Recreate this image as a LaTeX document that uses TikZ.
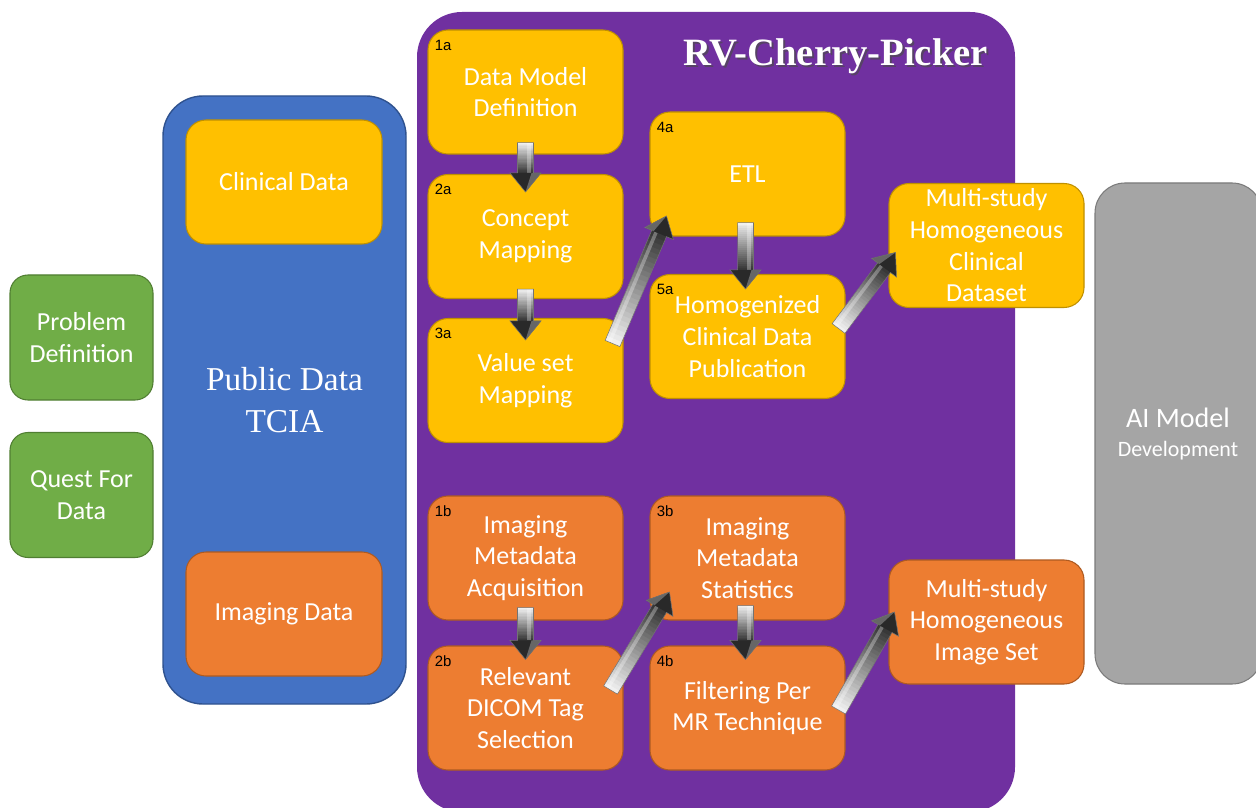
\documentclass[tikz,border=0pt]{standalone}
\usepackage{fontspec}
\setmainfont{Carlito}
\newfontfamily\serifT{Liberation Serif}
\newfontfamily\numT{Liberation Sans}
\usetikzlibrary{calc}
\definecolor{cgold}{HTML}{FFC000}
\definecolor{cgoldD}{HTML}{BF9000}
\definecolor{corange}{HTML}{ED7D31}
\definecolor{corangeD}{HTML}{AE5A21}
\definecolor{cgreen}{HTML}{70AD47}
\definecolor{cgreenD}{HTML}{507E32}
\definecolor{cblue}{HTML}{4472C4}
\definecolor{cblueD}{HTML}{2F528F}
\definecolor{cpurple}{HTML}{7030A0}
\definecolor{cgray}{HTML}{A5A5A5}
\definecolor{cgrayD}{HTML}{7B7B7B}
\tikzset{
  box/.style 2 args={draw, line width=0.6pt, rounded corners=0.4cm,
    minimum width=#1*0.02cm, minimum height=#2*0.02cm, align=center,
    text=white, inner sep=1pt, font=\fontsize{14.8}{18}\selectfont},
  goldbox/.style={box={195}{124}, fill=cgold, draw=cgoldD},
  orangebox/.style={box={195}{124}, fill=corange, draw=corangeD},
  greenbox/.style={box={143}{125}, fill=cgreen, draw=cgreenD, rounded corners=0.36cm},
  numlbl/.style={anchor=north west, inner sep=0pt, text=black,
    font=\numT\fontsize{8.5}{10}\selectfont},
  arrowedge/.style={draw=black!55, line width=0.3pt},
}
% 3-D style block arrow from #1 (tail) to #2 (tip), light at tail, dark at head
\newcommand{\blkarrow}[2]{%
  \coordinate (bkH) at ($(#2)!0.38cm!(#1)$);
  \foreach \i in {0,...,23}{%
    \pgfmathsetmacro\ca{\i/24}%
    \pgfmathsetmacro\cb{(\i+1.4)/24}%
    \pgfmathsetmacro\cc{6+72*\i/23}%
    \fill[black!\cc]
      ($(#1)!\ca!(bkH)!0.16cm!90:(#2)$) -- ($(#1)!\cb!(bkH)!0.16cm!90:(#2)$)
      -- ($(#1)!\cb!(bkH)!0.16cm!-90:(#2)$) -- ($(#1)!\ca!(bkH)!0.16cm!-90:(#2)$) -- cycle;
  }
  \fill[white, opacity=0.3]
      ($(#1)!0.03cm!90:(#2)$) -- ($(bkH)!0.03cm!-90:(#1)$)
      -- ($(bkH)!0.1cm!-90:(#1)$) -- ($(#1)!0.1cm!90:(#2)$) -- cycle;
  \fill[black!84] ($(bkH)!0.31cm!-90:(#1)$) -- (#2) -- ($(bkH)!0.31cm!90:(#1)$) -- cycle;
  \fill[black!60] ($(bkH)!0.31cm!-90:(#1)$) -- (#2) -- ($(bkH)!0.12cm!-90:(#1)$) -- cycle;
  \draw[arrowedge]
    ($(#1)!0.16cm!90:(#2)$) -- ($(bkH)!0.16cm!-90:(#1)$) -- ($(bkH)!0.31cm!-90:(#1)$)
    -- (#2) -- ($(bkH)!0.31cm!90:(#1)$) -- ($(bkH)!0.16cm!90:(#1)$)
    -- ($(#1)!0.16cm!-90:(#2)$) -- cycle;
}
\begin{document}
\begin{tikzpicture}[x=0.02cm, y=-0.02cm]
\useasboundingbox (0,0) rectangle (1256,807);
\clip (0,0) rectangle (1256,807);
\fill[white] (0,0) rectangle (1256,807);

% left green boxes
\node[greenbox] (prob) at (81.5,337.5) {Problem\\Definition};
\node[greenbox] (quest) at (81.5,495) {Quest For\\Data};

% blue public data
\node[draw=cblueD, fill=cblue, line width=0.8pt, rounded corners=0.8cm,
      minimum width=243*0.02cm, minimum height=608*0.02cm, align=center,
      text=white, font=\serifT\fontsize{19}{24}\selectfont] (tcia) at (284.5,400)
      {Public Data\\TCIA};
\node[goldbox, minimum width=196*0.02cm] (clin) at (284,182) {Clinical Data};
\node[orangebox, minimum width=196*0.02cm] (img) at (284,614) {Imaging Data};

% purple cherry picker
\node[fill=cpurple, rounded corners=0.9cm, minimum width=598*0.02cm,
      minimum height=800*0.02cm] (rv) at (716,412) {};
\node[text=black!70, opacity=0.7, font=\serifT\bfseries\fontsize{22}{26}\selectfont]
      (titleshadow) at (837.5,58) {RV-Cherry-Picker};
\node[text=white, font=\serifT\bfseries\fontsize{22}{26}\selectfont]
      (title) at (835.5,56) {RV-Cherry-Picker};

% AI model
\node[draw=cgrayD, fill=cgray, line width=0.6pt, rounded corners=0.6cm,
      minimum width=167*0.02cm, minimum height=501*0.02cm] (ai) at (1178.5,433.5) {};
\node[text=white, align=center, font=\fontsize{16}{18}\selectfont] (aitxt) at (1178,434)
      {AI Model\\[-1pt]{\fontsize{12.5}{15}\selectfont Development}};

% clinical pipeline
\node[goldbox] (n1a) at (525.5,92) {Data Model\\Definition};
\node[goldbox] (n2a) at (525.5,236.5) {Concept\\Mapping};
\node[goldbox] (n3a) at (525.5,380.5) {Value set\\Mapping};
\node[goldbox] (n4a) at (747.5,174) {ETL};
\node[goldbox] (n5a) at (747.5,336.5) {Homogenized\\Clinical Data\\Publication};
\node[goldbox] (nmc) at (986.5,245.5) {Multi-study\\Homogeneous\\Clinical\\Dataset};

% imaging pipeline
\node[orangebox] (n1b) at (525.5,558) {Imaging\\Metadata\\Acquisition};
\node[orangebox] (n2b) at (525.5,708) {Relevant\\DICOM Tag\\Selection};
\node[orangebox] (n3b) at (747.5,558) {Imaging\\Metadata\\Statistics};
\node[orangebox] (n4b) at (747.5,708) {Filtering Per\\MR Technique};
\node[orangebox] (nmi) at (986.5,622) {Multi-study\\Homogeneous\\Image Set};

% number labels
\foreach \n/\t in {n1a/1a,n2a/2a,n3a/3a,n4a/4a,n5a/5a,n1b/1b,n2b/2b,n3b/3b,n4b/4b}
  \node[numlbl] (lbl\t) at ($(\n.north west)+(7,10)$) {\t};

% arrow end points
\coordinate (a1s) at ($(n1a.south)+(0,-12)$);
\coordinate (a1e) at ($(n2a.north)+(0,18)$);
\coordinate (a2s) at ($(n2a.south)+(0,-10)$);
\coordinate (a2e) at ($(n3a.north)+(0,22)$);
\coordinate (a3s) at ($(n3a.east)+(-11,-37)$);
\coordinate (a3e) at ($(n4a.west)+(17,42)$);
\coordinate (a4s) at ($(n4a.south)+(-2,-14)$);
\coordinate (a4e) at ($(n5a.north)+(-2,15)$);
\coordinate (a5s) at ($(n5a.east)+(-7,-8)$);
\coordinate (a5e) at ($(nmc.west)+(7,7)$);
\coordinate (b1s) at ($(n1b.south)+(0,-13)$);
\coordinate (b1e) at ($(n2b.north)+(0,14)$);
\coordinate (b2s) at ($(n2b.east)+(-13,-18)$);
\coordinate (b2e) at ($(n3b.west)+(20,34)$);
\coordinate (b3s) at ($(n3b.south)+(-2,-15)$);
\coordinate (b3e) at ($(n4b.north)+(-2,14)$);
\coordinate (b4s) at ($(n4b.east)+(-7,2)$);
\coordinate (b4e) at ($(nmi.west)+(6,-10)$);

\blkarrow{a1s}{a1e}
\blkarrow{a2s}{a2e}
\blkarrow{a3s}{a3e}
\blkarrow{a4s}{a4e}
\blkarrow{a5s}{a5e}
\blkarrow{b1s}{b1e}
\blkarrow{b2s}{b2e}
\blkarrow{b3s}{b3e}
\blkarrow{b4s}{b4e}
\end{tikzpicture}
\end{document}
